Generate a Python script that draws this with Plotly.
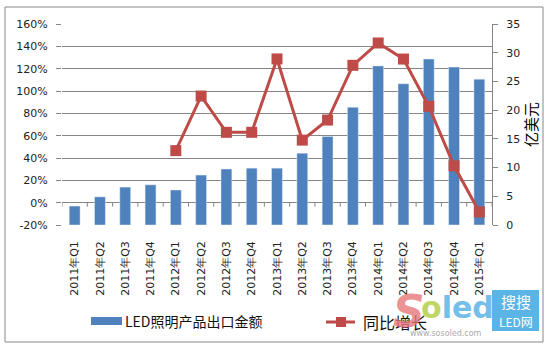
import plotly.graph_objects as go

categories = ["2011年Q1", "2011年Q2", "2011年Q3", "2011年Q4",
              "2012年Q1", "2012年Q2", "2012年Q3", "2012年Q4",
              "2013年Q1", "2013年Q2", "2013年Q3", "2013年Q4",
              "2014年Q1", "2014年Q2", "2014年Q3", "2014年Q4",
              "2015年Q1"]
export_value = [3.3, 4.9, 6.6, 7.0, 6.1, 8.7, 9.75, 9.9, 9.9, 12.5, 15.4, 20.5,
                27.7, 24.6, 28.9, 27.5, 25.4]
growth_pct = [None, None, None, None, 46.6, 95.5, 63, 63, 128.7, 56, 74, 123,
              143, 128.6, 86.3, 33, -8.3]
left_ticks = [-20, 0, 20, 40, 60, 80, 100, 120, 140, 160]
right_ticks = [0, 5, 10, 15, 20, 25, 30, 35]
bar_name = "LED照明产品出口金额"
line_name = "同比增长"
bar_color = "#4F81BD"
line_color = "#BE4B48"

W, H = 551, 352
L, R, T, B = 62, 59, 24, 127
pw, ph = W - L - R, H - T - B

def px(x):
    return (x - L) / pw

def py(y):
    return (H - B - y) / ph

fig = go.Figure()
fig.add_trace(go.Bar(
    x=categories, y=export_value, name=bar_name,
    marker=dict(color=bar_color), yaxis="y", width=0.43,
))
fig.add_trace(go.Scatter(
    x=categories, y=growth_pct, name=line_name, yaxis="y2",
    mode="lines+markers",
    line=dict(color=line_color, width=3),
    marker=dict(symbol="square", size=11, color=line_color),
))

tickfont = dict(family="DejaVu Sans", size=11, color="#222")

shapes = []
# small tick marks on the 0% line between categories
for i in range(len(categories) + 1):
    shapes.append(dict(type="line", xref="x", yref="y2", x0=i - 0.5, x1=i - 0.5,
                       y0=0, y1=-3.6, line=dict(color="#868686", width=1)))
# outer border
shapes.append(dict(type="rect", xref="paper", yref="paper",
                   x0=px(5), x1=px(543), y0=py(7), y1=py(342),
                   line=dict(color="#888", width=1), layer="below"))
# legend symbols
shapes.append(dict(type="rect", xref="paper", yref="paper",
                   x0=px(91), x1=px(122), y0=py(317), y1=py(325),
                   fillcolor=bar_color, line=dict(width=0)))
shapes.append(dict(type="line", xref="paper", yref="paper",
                   x0=px(326), x1=px(355), y0=py(322), y1=py(322),
                   line=dict(color=line_color, width=3)))
shapes.append(dict(type="rect", xref="paper", yref="paper",
                   x0=px(336), x1=px(346), y0=py(317), y1=py(327),
                   fillcolor=line_color, line=dict(width=0)))
# watermark box
shapes.append(dict(type="rect", xref="paper", yref="paper", layer="above",
                   x0=px(492), x1=px(539), y0=py(290), y1=py(331),
                   fillcolor="#5BB4E6", line=dict(width=0)))

def note(text, x, y, font, xanchor="center", yanchor="middle", opacity=1):
    return dict(text=text, x=px(x), y=py(y), xref="paper", yref="paper",
                xanchor=xanchor, yanchor=yanchor, showarrow=False,
                font=font, opacity=opacity)

annotations = [
    note(bar_name, 123, 321, dict(family="Noto Sans CJK SC", size=14, color="#111"),
         xanchor="left"),
    note(line_name, 361, 322, dict(family="Noto Sans CJK SC", size=16, color="#111"),
         xanchor="left"),
    note("<i><b><span style='color:#E8777A'>S</span></b></i>", 409, 311,
         dict(family="DejaVu Sans", size=44), opacity=0.8),
    note("<b><span style='color:#B5CF4A'>o</span><span style='color:#5BB4E6'>led</span></b>",
         457, 307, dict(family="DejaVu Sans", size=30), opacity=0.85),
    note("www.sosoled.com", 446, 333, dict(family="DejaVu Sans", size=8, color="#aaa")),
    note("搜搜", 515.5, 301, dict(family="Noto Sans CJK SC", size=15, color="white")),
    note("LED网", 515.5, 321, dict(family="Noto Sans CJK SC", size=12, color="white")),
]

fig.update_layout(
    width=W, height=H,
    margin=dict(l=L, r=R, t=T, b=B, autoexpand=False),
    paper_bgcolor="white", plot_bgcolor="white",
    bargap=0.57,
    showlegend=False,
    xaxis=dict(type="category", categoryorder="array", categoryarray=categories,
               tickangle=-90, tickfont=tickfont, showgrid=False, showline=False,
               ticks="", ticklabelstandoff=13, range=[-0.5, len(categories) - 0.5]),
    yaxis=dict(side="right", range=[0, 35], tickvals=right_ticks,
               showgrid=False, zeroline=False, showline=True, linecolor="#868686",
               ticks="outside", ticklen=5, tickcolor="#868686", tickfont=tickfont,
               ticklabelstandoff=6,
               title=dict(text="亿美元", standoff=1,
                          font=dict(family="Noto Sans CJK SC", size=15, color="#000"))),
    yaxis2=dict(side="left", overlaying="y", range=[-20, 160], tickvals=left_ticks,
                ticktext=[f"{v}%" for v in left_ticks],
                showgrid=True, gridcolor="#868686", gridwidth=1,
                zeroline=True, zerolinecolor="#868686", zerolinewidth=1,
                showline=False, ticks="outside", ticklen=5, tickcolor="#868686",
                tickfont=tickfont, ticklabelstandoff=6),
    shapes=shapes,
    annotations=annotations,
)

fig.write_html("out.html")
